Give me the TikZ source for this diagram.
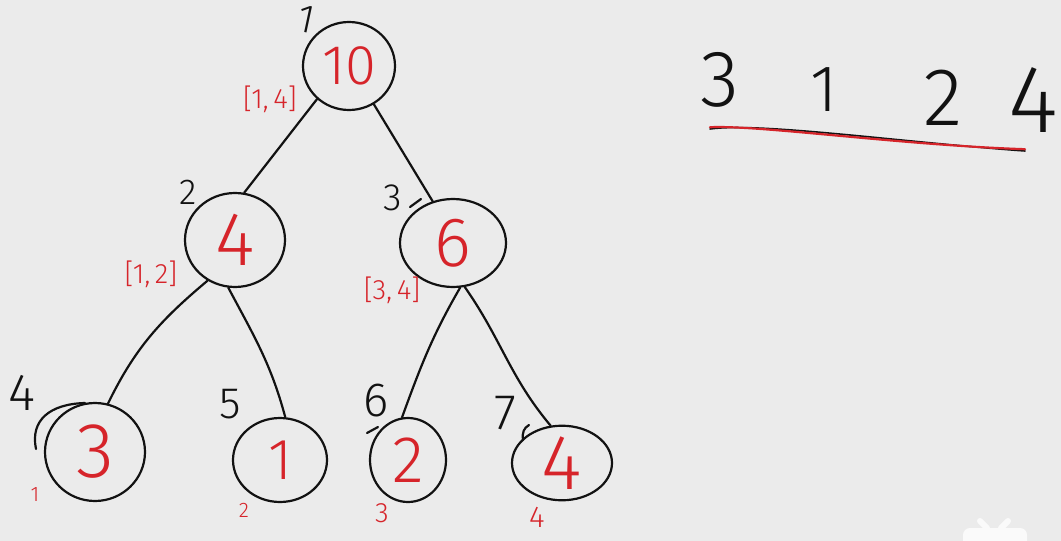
\documentclass[tikz,border=0pt]{standalone}
\usepackage{fontspec}
\setmainfont{Fira Sans Light}
\usetikzlibrary{shapes.geometric}
\definecolor{paper}{RGB}{235,235,235}
\definecolor{ink}{RGB}{18,18,18}
\definecolor{pen}{RGB}{214,36,42}
\definecolor{badge}{RGB}{250,250,250}
\newcommand{\fs}[1]{\fontsize{#1}{#1}\selectfont}

\begin{document}
\begin{tikzpicture}[x=1pt,y=-1pt,
  treenode/.style={draw=ink, line width=2.2pt, ellipse, inner sep=0pt, text=pen},
  branch/.style={draw=ink, line width=2.2pt, line cap=round},
  retrace/.style={draw=ink, line width=2.2pt, line cap=round},
  idxlabel/.style={text=ink, inner sep=0pt, font=\fs{40}},
  spanlabel/.style={text=pen, inner sep=0pt, font=\fs{28}},
  leafpos/.style={text=pen, inner sep=0pt, font=\fs{21}},
  digitlabel/.style={text=ink, inner sep=0pt},
]
\fill[paper] (0,0) rectangle (1061,541);
\useasboundingbox (0,0) rectangle (1061,541);

% tree nodes: sums of the segments
\node[treenode, minimum width=92pt,  minimum height=88pt, font=\fs{56}] (n1) at (349,66)  {10};
\node[treenode, minimum width=100pt, minimum height=94pt, font=\fs{76}] (n2) at (235,240) {4};
\node[treenode, minimum width=106pt, minimum height=88pt, font=\fs{70}] (n3) at (453,243) {6};
\node[treenode, minimum width=100pt, minimum height=98pt, font=\fs{78}] (n4) at (95,452)  {3};
\node[treenode, minimum width=94pt,  minimum height=84pt, font=\fs{58}] (n5) at (280,460) {1};
\node[treenode, minimum width=76pt,  minimum height=84pt, font=\fs{66}] (n6) at (408,460) {2};
\node[treenode, minimum width=100pt, minimum height=74pt, font=\fs{78}] (n7) at (562,463) {4};

% branches
\draw[branch] (n1.226) -- (n2.79);
\draw[branch] (n1.303) -- (n3.116);
\draw[branch] (n2.236) to[out=220,in=64] (n4.75);
\draw[branch] (n2.262) to[out=-62,in=105] (n5.83);
\draw[branch] (n3.279) to[out=240,in=70] (n6.98);
\draw[branch] (n3.285) to[out=-55,in=130] (n7.107);

% pen retraces around some circles
\draw[retrace] (36,449) .. controls (30,420) and (50,404) .. (85,403);
\draw[retrace] (367,433) -- (378,427);
\draw[retrace] (523,440) .. controls (522,432) and (524,428) .. (529,425);
\draw[retrace] (410,207) -- (421,199);

% node indices
\node[idxlabel, rotate=-12] (i1) at (306,19)  {1};
\node[idxlabel, font=\fs{36}] (i2) at (188,192) {2};
\node[idxlabel, font=\fs{38}] (i3) at (393,198) {3};
\node[idxlabel, font=\fs{52}] (i4) at (22,393)  {4};
\node[idxlabel, font=\fs{44}] (i5) at (230,404) {5};
\node[idxlabel, font=\fs{48}] (i6) at (376,401) {6};
\node[idxlabel, font=\fs{50}] (i7) at (505,413) {7};

% segment ranges
\node[spanlabel] (r1) at (270,99)  {[1,\,4]};
\node[spanlabel] (r2) at (151,274) {[1,\,2]};
\node[spanlabel] (r3) at (392,290) {[3,\,4]};

% leaf positions
\node[leafpos] (p1) at (35,495)  {1};
\node[leafpos] (p2) at (244,510) {2};
\node[leafpos, font=\fs{28}] (p3) at (382,513) {3};
\node[leafpos, font=\fs{30}] (p4) at (537,517) {4};

% the input array
\node[digitlabel, font=\fs{80}] (a1) at (720,80)  {3};
\node[digitlabel, font=\fs{66}] (a2) at (824,90)  {1};
\node[digitlabel, font=\fs{82}] (a3) at (943,98)  {2};
\node[digitlabel, font=\fs{96}] (a4) at (1033,100) {4};
\coordinate (u1) at (710,128);
\coordinate (u2) at (1025,150);
\draw[ink, line width=1.6pt, line cap=round] ([yshift=-1pt]u1) .. controls (760,122) and (900,142) .. ([yshift=-1pt]u2);
\draw[pen, line width=2.2pt, line cap=round] ([yshift=0.8pt]u1) .. controls (760,125) and (900,145) .. ([yshift=0.8pt]u2);

% corner badge
\fill[black!8, rounded corners=7pt] (961,527) rectangle (1029,552);
\fill[badge, rounded corners=7pt] (963,528) rectangle (1027,552);
\draw[badge, line width=6pt, line cap=round] (980,521) -- (987,528);
\draw[badge, line width=6pt, line cap=round] (1008,521) -- (1001,528);
\end{tikzpicture}
\end{document}
